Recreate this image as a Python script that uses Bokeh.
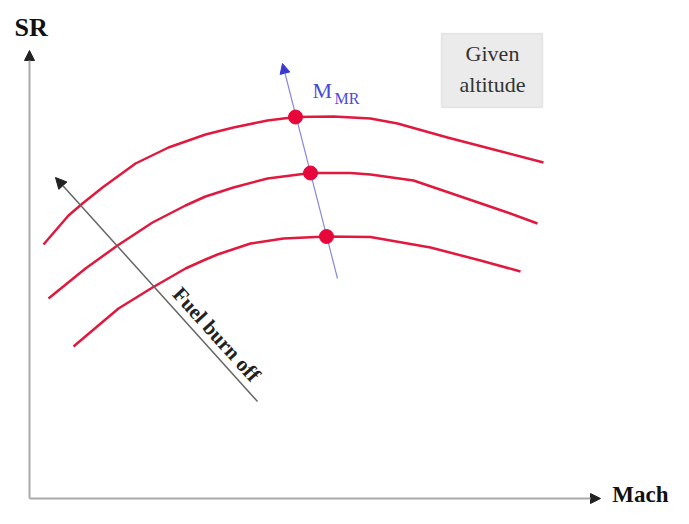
import math
from bokeh.plotting import figure
from bokeh.models import Range1d, Arrow, NormalHead, Label, BoxAnnotation
from bokeh.embed import file_html
from bokeh.resources import INLINE

# Schematic data (Mach on x, SR on y; arbitrary units)
curve_top_mach = [43, 68, 82, 102, 135, 168, 205, 233, 267, 295, 333, 370, 397, 447, 497, 543]
curve_top_sr = [280, 309, 321, 337, 361, 377, 390, 397, 404, 407.5, 408, 406, 401, 387, 374, 362]
curve_mid_mach = [48, 85, 117, 152, 185, 205, 233, 267, 310, 350, 370, 413, 463, 507, 537]
curve_mid_sr = [226, 256, 279, 302, 319, 328, 337, 346, 351.5, 351.5, 350, 344, 327, 312, 301]
curve_bot_mach = [73, 118, 152, 185, 205, 217, 250, 283, 326, 370, 430, 480, 520]
curve_bot_sr = [178, 216, 237, 256, 265, 270, 281, 286, 288, 287.5, 277, 264, 253]
mmr_mach = [295, 310, 326]
mmr_sr = [407.5, 351.5, 288]
mmr_line_mach = [337, 282]
mmr_line_sr = [246, 461]
fuel_arrow_mach = [257, 55]
fuel_arrow_sr = [123, 347]

FONT = "Liberation Serif"
RED = "#e0193f"

p = figure(width=673, height=508, x_range=Range1d(0, 673), y_range=Range1d(16, 524),
           output_backend="svg", toolbar_location=None, min_border=0,
           background_fill_color="white", border_fill_color="white",
           outline_line_color=None)
p.xaxis.visible = False
p.yaxis.visible = False
p.xgrid.visible = False
p.ygrid.visible = False

# Axes
p.add_layout(Arrow(end=NormalHead(size=10, fill_color="#222222", line_color="#222222"),
                   x_start=29, y_start=26, x_end=29, y_end=474,
                   line_color="#aaaaaa", line_width=2))
p.add_layout(Arrow(end=NormalHead(size=10, fill_color="#222222", line_color="#222222"),
                   x_start=29, y_start=26, x_end=600, y_end=26,
                   line_color="#aaaaaa", line_width=2))
p.add_layout(Label(x=14, y=497, text="SR", text_font=FONT, text_font_size="26px",
                   text_font_style="bold", text_color="#111111", text_baseline="middle"))
p.add_layout(Label(x=668, y=30, text="Mach", text_font=FONT, text_font_size="23px",
                   text_font_style="bold", text_color="#111111", text_baseline="middle",
                   text_align="right"))

# Given altitude box
p.add_layout(BoxAnnotation(left=441, right=542, bottom=417, top=491,
                           fill_color="#ebebeb", fill_alpha=1.0,
                           line_color="#bdbdbd", line_width=1.5))
p.add_layout(Label(x=492, y=471, text="Given", text_font=FONT, text_font_size="22px",
                   text_color="#333333", text_align="center", text_baseline="middle"))
p.add_layout(Label(x=492, y=440, text="altitude", text_font=FONT, text_font_size="22px",
                   text_color="#333333", text_align="center", text_baseline="middle"))

# Fuel burn off arrow
p.add_layout(Arrow(end=NormalHead(size=11, fill_color="#222222", line_color="#222222"),
                   x_start=fuel_arrow_mach[0], y_start=fuel_arrow_sr[0],
                   x_end=fuel_arrow_mach[1], y_end=fuel_arrow_sr[1],
                   line_color="#666666", line_width=1.5))
ang = -math.atan2(fuel_arrow_sr[1] - fuel_arrow_sr[0], fuel_arrow_mach[0] - fuel_arrow_mach[1])
p.add_layout(Label(x=216, y=190, text="Fuel burn off", text_font=FONT, text_font_size="21px",
                   text_font_style="bold", text_color="#222222", angle=ang,
                   text_align="center", text_baseline="middle"))

# M_MR line (drawn beneath the curves and markers)
p.add_layout(Arrow(end=NormalHead(size=10, fill_color="#3a3ad0", line_color="#3a3ad0"),
                   x_start=mmr_line_mach[0], y_start=mmr_line_sr[0],
                   x_end=mmr_line_mach[1], y_end=mmr_line_sr[1],
                   line_color="#8888dd", line_width=1.2, level="underlay"))

# Curves
p.line(curve_top_mach, curve_top_sr, line_color=RED, line_width=2.5, line_join="round")
p.line(curve_mid_mach, curve_mid_sr, line_color=RED, line_width=2.5, line_join="round")
p.line(curve_bot_mach, curve_bot_sr, line_color=RED, line_width=2.5, line_join="round")

p.scatter(mmr_mach, mmr_sr, size=14, fill_color="#e8073a", line_color="#e8073a")
p.add_layout(Label(x=312, y=434, text="M", text_font=FONT, text_font_size="22px",
                   text_color="#4a4ad8", text_baseline="middle"))
p.add_layout(Label(x=334, y=426, text="MR", text_font=FONT, text_font_size="16px",
                   text_color="#4a4ad8", text_baseline="middle"))

open("out.html", "w").write(file_html(p, INLINE))
